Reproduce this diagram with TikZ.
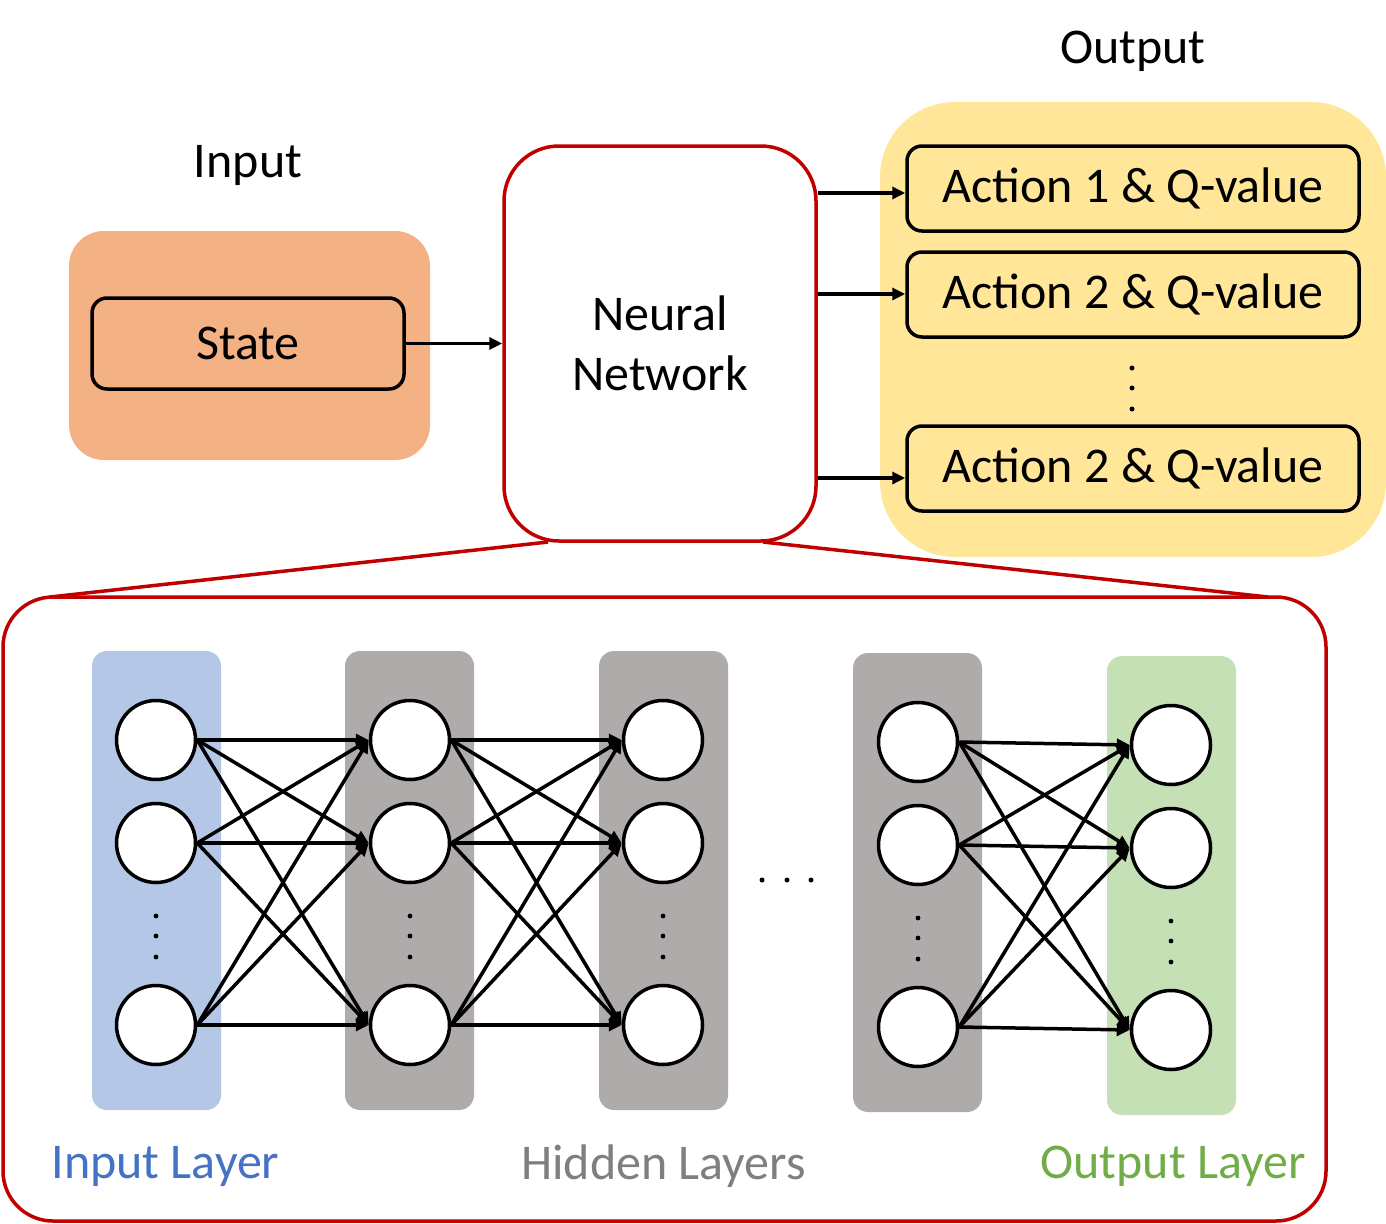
\documentclass[tikz,border=0pt]{standalone}
\usepackage{fontspec}
\setmainfont{Carlito}
\usetikzlibrary{arrows.meta}
\definecolor{inbg}{HTML}{F4B183}
\definecolor{outbg}{HTML}{FFE699}
\definecolor{nnred}{HTML}{C00000}
\definecolor{lblue}{HTML}{B4C7E7}
\definecolor{lgray}{HTML}{AFABAB}
\definecolor{lgreen}{HTML}{C5E0B4}
\definecolor{tblue}{HTML}{4472C4}
\definecolor{tgray}{HTML}{7F7F7F}
\definecolor{tgreen}{HTML}{70AD47}
\begin{document}
\begin{tikzpicture}[x=1pt,y=-1pt,font=\fontsize{50}{60}\selectfont,
  box/.style={draw=black,line width=3.5pt,rounded corners=15pt,inner sep=0pt},
  arr/.style={-{Triangle[length=13pt,width=12pt]},line width=3.5pt},
  neuron/.style={circle,draw=black,fill=white,line width=3.5pt,minimum size=79pt,inner sep=0pt},
  layerbg/.style={rounded corners=15pt,inner sep=0pt,minimum width=129pt,minimum height=459pt},
  redline/.style={draw=nnred,line width=3.5pt},
  dotmark/.style={fill=black}]
\useasboundingbox (0,0) rectangle (1386,1223);
% top part
\node[fill=inbg,rounded corners=35pt,minimum width=361pt,minimum height=229pt,inner sep=0pt] (inbg) at (249.5,345.5) {};
\node[fill=outbg,rounded corners=75pt,minimum width=506pt,minimum height=455pt,inner sep=0pt] (outbg) at (1133,329.5) {};
\node (inlbl) at (248,165) {Input};
\node (outlbl) at (1133,51) {Output};
\node[box,minimum width=312pt,minimum height=91pt] (state) at (248,343.5) {State};
\node[redline,rounded corners=55pt,minimum width=312pt,minimum height=395pt,inner sep=0pt,align=center] (nn) at (660,343.5) {Neural\\Network};
\node[box,minimum width=452pt,minimum height=85pt] (a1) at (1133,188.5) {Action 1 \& Q-value};
\node[box,minimum width=452pt,minimum height=85pt] (a2) at (1133,294.5) {Action 2 \& Q-value};
\node[box,minimum width=452pt,minimum height=85pt] (a3) at (1133,468.5) {Action 2 \& Q-value};
\fill[dotmark] (1132,368) circle (2.5pt) (1132,388) circle (2.5pt) (1132,409) circle (2.5pt);
\draw[arr] (state) -- (nn);
\draw[arr] (nn.east |- 0,193) -- (a1.west |- 0,193);
\draw[arr] (nn.east |- 0,294) -- (a2.west |- 0,294);
\draw[arr] (nn.east |- 0,478) -- (a3.west |- 0,478);
% big box
\node[redline,rounded corners=50pt,minimum width=1323pt,minimum height=624pt,inner sep=0pt] (big) at (664.5,909) {};
\coordinate (z1) at (548,542);
\coordinate (z2) at (763,542);
\coordinate (b1) at (50,597);
\coordinate (b2) at (1268,597);
\draw[redline] (z1) -- (b1);
\draw[redline] (z2) -- (b2);
% layers
\node[layerbg,fill=lblue] (L1) at (156.5,880.5) {};
\node[layerbg,fill=lgray] (L2) at (409.5,880.5) {};
\node[layerbg,fill=lgray] (L3) at (663.5,880.5) {};
\node[layerbg,fill=lgray] (L4) at (917.5,882.5) {};
\node[layerbg,fill=lgreen] (L5) at (1171.5,885.5) {};
% neurons
\foreach \c/\x/\dy in {1/156/0,2/410/0,3/663/0,4/918/2,5/1171/5}{
  \node[neuron] (n\c1) at (\x,740+\dy) {};
  \node[neuron] (n\c2) at (\x,843+\dy) {};
  \node[neuron] (n\c3) at (\x,1025+\dy) {};
  \fill[dotmark] (\x,916+\dy) circle (2.4pt) (\x,936+\dy) circle (2.4pt) (\x,957+\dy) circle (2.4pt);
}
\foreach \a/\b in {1/2,2/3,4/5}{
  \foreach \i in {1,2,3}{
    \foreach \j in {1,2,3}{
      \draw[arr] (n\a\i.east) -- (n\b\j.west);
    }
  }
}
\fill[dotmark] (762,880) circle (2.5pt) (787,880) circle (2.5pt) (811,880) circle (2.5pt);
\node[text=tblue] (lab1) at (165.5,1166) {Input Layer};
\node[text=tgray] (lab2) at (663.5,1166) {Hidden Layers};
\node[text=tgreen] (lab3) at (1173,1166) {Output Layer};
\end{tikzpicture}
\end{document}
